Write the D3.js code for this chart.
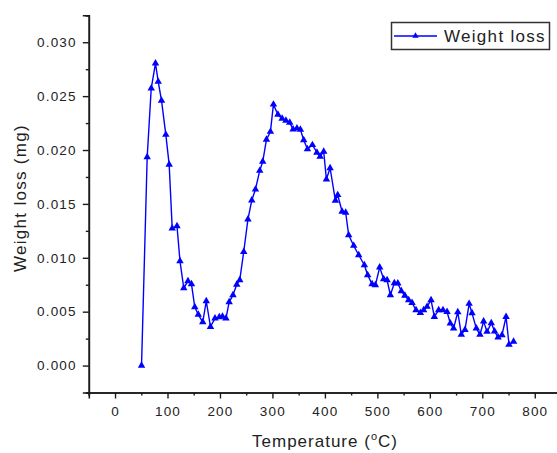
<!DOCTYPE html>
<html>
<head>
<meta charset="utf-8">
<script src="https://cdn.jsdelivr.net/npm/d3@7"></script>
<style>
html,body{margin:0;padding:0;background:#fff;}
svg{display:block;}
text{font-family:"Liberation Sans",Arial,sans-serif;}
</style>
</head>
<body>
<svg id="chart" width="557" height="453"></svg>
<script>
// Temperature (°C)
const temperature = [50.5,61.3,69.0,77.1,82.3,88.6,96.8,103.2,109.0,118.1,123.8,131.0,139.0,145.7,152.0,158.7,167.2,173.9,181.9,190.5,198.7,204.8,211.4,217.5,224.8,232.0,237.7,245.3,253.3,260.6,267.6,275.8,281.5,288.6,296.2,301.9,310.5,318.5,325.7,333.0,339.4,346.7,353.3,359.6,366.7,376.2,384.8,390.9,397.7,402.9,409.9,420.0,424.4,432.8,439.6,445.3,454.9,464.4,475.2,481.5,489.9,496.2,504.4,512.0,518.5,524.8,532.4,539.0,545.7,552.4,559.6,566.1,573.7,581.9,588.2,594.7,602.3,608.6,616.8,625.1,632.8,639.0,645.3,653.3,660.0,667.0,674.9,680.4,688.6,695.6,702.5,709.0,717.1,723.4,730.1,737.5,745.3,750.9,759.6];
// Weight loss (mg)
const weightLoss = [0.0000,0.01935,0.02573,0.02805,0.02634,0.02458,0.02142,0.01864,0.01273,0.01295,0.00970,0.00719,0.00784,0.00756,0.00543,0.00473,0.00404,0.00599,0.00360,0.00438,0.00450,0.00455,0.00438,0.00589,0.00654,0.00752,0.00794,0.01056,0.01357,0.01533,0.01634,0.01808,0.01892,0.02096,0.02170,0.02423,0.02328,0.02291,0.02274,0.02254,0.02192,0.02202,0.02189,0.02093,0.02009,0.02047,0.01977,0.01940,0.01986,0.01728,0.01833,0.01531,0.01583,0.01428,0.01420,0.01211,0.01112,0.01026,0.00933,0.00840,0.00756,0.00747,0.00911,0.00803,0.00794,0.00654,0.00766,0.00763,0.00691,0.00650,0.00608,0.00583,0.00515,0.00490,0.00515,0.00546,0.00608,0.00453,0.00515,0.00515,0.00499,0.00392,0.00345,0.00497,0.00288,0.00332,0.00574,0.00487,0.00345,0.00288,0.00410,0.00314,0.00394,0.00318,0.00262,0.00283,0.00453,0.00195,0.00223];
const xTicks = [0,100,200,300,400,500,600,700,800];
const xMinorTicks = [-50,50,150,250,350,450,550,650,750,850];
const yTicks = [0,0.005,0.010,0.015,0.020,0.025,0.030];
const yMinorTicks = [-0.0025,0.0025,0.0075,0.0125,0.0175,0.0225,0.0275,0.0325];
const seriesName = "Weight loss";
const xTitle = "Temperature (";
const yTitle = "Weight loss (mg)";

const data = temperature.map((t,i)=>({t, w: weightLoss[i]}));
const svg = d3.select("#chart");
const axisColor = "#1a1a1a";
const blue = "#0000ff";

const x = d3.scaleLinear().domain([-50,850]).range([88.8,561]);
const y = d3.scaleLinear().domain([-0.0025,0.0325]).range([392.5,15.3]);

// X axis
const gx = svg.append("g").attr("transform",`translate(0,${y(-0.0025)})`);
gx.call(d3.axisBottom(x).tickValues(xTicks).tickSize(6).tickPadding(5).tickFormat(d3.format("d")));
gx.append("g").call(d3.axisBottom(x).tickValues(xMinorTicks).tickSize(3).tickFormat(""));
// Y axis
const gy = svg.append("g").attr("transform",`translate(${x(-50)},0)`);
gy.call(d3.axisLeft(y).tickValues(yTicks).tickSize(6).tickPadding(6).tickFormat(d3.format(".3f")));
gy.append("g").call(d3.axisLeft(y).tickValues(yMinorTicks).tickSize(3).tickFormat(""));

svg.selectAll(".domain").attr("stroke",axisColor).attr("stroke-width",1.6);
svg.selectAll(".tick line").attr("stroke",axisColor).attr("stroke-width",1.4);
svg.selectAll(".tick text").attr("fill","#222").style("font-size","13.5px").style("letter-spacing","1.2px");
gx.selectAll(".tick text").attr("dy","0.9em");

// Titles
const xt = svg.append("text").attr("x",325).attr("y",447)
  .attr("text-anchor","middle").attr("fill","#222")
  .style("font-size","17px").style("letter-spacing","1px");
xt.append("tspan").text(xTitle);
xt.append("tspan").text("o").attr("dy","-7").style("font-size","11px");
xt.append("tspan").text("C)").attr("dy","7");

svg.append("text").attr("transform","translate(26,198) rotate(-90)")
  .attr("text-anchor","middle").attr("fill","#222")
  .style("font-size","17px").style("letter-spacing","1.3px").text(yTitle);

// Line
const line = d3.line().x(d=>x(d.t)).y(d=>y(d.w));
svg.append("path").datum(data).attr("d",line)
  .attr("fill","none").attr("stroke",blue).attr("stroke-width",1.4).attr("stroke-linejoin","round");

const tri = d3.symbol().type(d3.symbolTriangle).size(24);
svg.append("g").selectAll("path").data(data).join("path")
  .attr("d",tri).attr("transform",d=>`translate(${x(d.t)},${y(d.w)})`)
  .attr("fill",blue);

// Legend
const lg = svg.append("g");
lg.append("rect").attr("x",391.5).attr("y",22.5).attr("width",158).attr("height",27)
  .attr("fill","#fff").attr("stroke","#333").attr("stroke-width",1.5);
lg.append("line").attr("x1",394).attr("x2",437).attr("y1",36).attr("y2",36)
  .attr("stroke",blue).attr("stroke-width",1.4);
lg.append("path").attr("d",d3.symbol().type(d3.symbolTriangle).size(18)())
  .attr("transform","translate(415.5,36)").attr("fill",blue);
lg.append("text").attr("x",444).attr("y",42).attr("fill","#222")
  .style("font-size","17px").style("letter-spacing","1.3px").text(seriesName);
</script>
</body>
</html>
